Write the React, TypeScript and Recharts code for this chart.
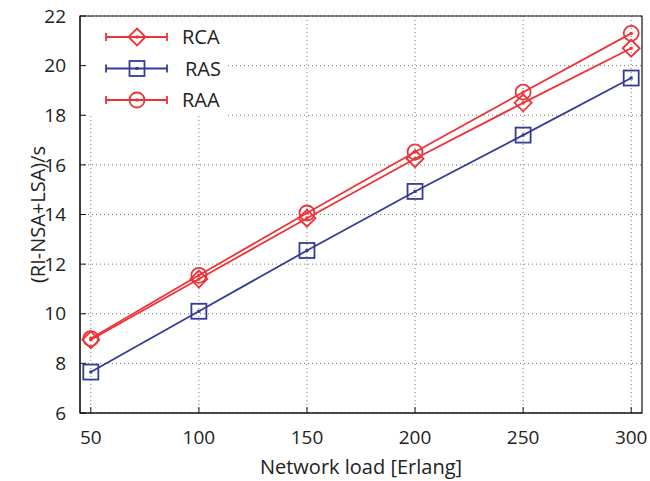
import React from 'react';
import {
  LineChart,
  Line,
  XAxis,
  YAxis,
  CartesianGrid,
  ReferenceArea,
} from 'recharts';

const loads = [50, 100, 150, 200, 250, 300];
const rca = [8.95, 11.4, 13.85, 16.25, 18.5, 20.7];
const ras = [7.65, 10.1, 12.55, 14.93, 17.2, 19.5];
const raa = [9.0, 11.55, 14.06, 16.52, 18.93, 21.3];
const xTicks = [50, 100, 150, 200, 250, 300];
const yTicks = [6, 8, 10, 12, 14, 16, 18, 20, 22];

const RED = '#ee3237';
const BLUE = '#343c9a';
const FONT = '"Open Sans", "Noto Sans", sans-serif';

const data = loads.map((x, i) => ({ x, rca: rca[i], ras: ras[i], raa: raa[i] }));

type DotProps = { cx?: number; cy?: number };

const Diamond = ({ cx = 0, cy = 0 }: DotProps) => (
  <g>
    <path
      d={`M${cx},${cy - 8.5}L${cx + 8.5},${cy}L${cx},${cy + 8.5}L${cx - 8.5},${cy}Z`}
      fill="none"
      stroke={RED}
      strokeWidth={1.8}
    />
    <rect x={cx - 1.5} y={cy - 1.5} width={3} height={3} fill={RED} />
  </g>
);

const Square = ({ cx = 0, cy = 0 }: DotProps) => (
  <g>
    <rect x={cx - 7.5} y={cy - 7.5} width={15} height={15} fill="none" stroke={BLUE} strokeWidth={1.8} />
    <rect x={cx - 1.5} y={cy - 1.5} width={3} height={3} fill={BLUE} />
  </g>
);

const Circle = ({ cx = 0, cy = 0 }: DotProps) => (
  <g>
    <circle cx={cx} cy={cy} r={7.5} fill="none" stroke={RED} strokeWidth={1.8} />
    <rect x={cx - 1.5} y={cy - 1.5} width={3} height={3} fill={RED} />
  </g>
);

const series = [
  { key: 'rca', name: 'RCA', color: RED, Dot: Diamond },
  { key: 'ras', name: 'RAS', color: BLUE, Dot: Square },
  { key: 'raa', name: 'RAA', color: RED, Dot: Circle },
];

const LegendBox = () => (
  <svg
    width={142}
    height={96}
    style={{ position: 'absolute', left: 86, top: 20, background: '#fff' }}
  >
    {series.map((s, i) => {
      const y = 17 + i * 31.5;
      const Dot = s.Dot;
      return (
        <g key={s.key}>
          <line x1={20} x2={81} y1={y} y2={y} stroke={s.color} strokeWidth={1.8} />
          <line x1={20} x2={20} y1={y - 4} y2={y + 4} stroke={s.color} strokeWidth={1.8} />
          <line x1={81} x2={81} y1={y - 4} y2={y + 4} stroke={s.color} strokeWidth={1.8} />
          <Dot cx={51} cy={y} />
          <text
            x={s.name === 'RAS' ? 99 : 96}
            y={y + 7}
            fontFamily={FONT}
            fontSize={20}
            fill="#222"
          >
            {s.name}
          </text>
        </g>
      );
    })}
  </svg>
);

export default function App() {
  return (
    <div style={{ position: 'absolute', left: 0, top: 0, width: 650, height: 481, background: '#fff' }}>
      <LineChart
        width={650}
        height={481}
        data={data}
        margin={{ top: 16, right: 8, left: 0, bottom: 0 }}
      >
        <CartesianGrid
          stroke="#777"
          strokeDasharray="1 3"
          verticalValues={xTicks}
          horizontalValues={yTicks}
        />
        <XAxis
          dataKey="x"
          type="number"
          domain={[45, 305]}
          ticks={xTicks}
          height={68}
          tickSize={-6}
          tickMargin={24}
          stroke="#111"
          tick={{ fill: '#222', fontSize: 19, fontFamily: FONT }}
          label={{
            value: 'Network load [Erlang]',
            position: 'insideBottom',
            offset: 7,
            fill: '#222',
            fontSize: 20,
            fontFamily: FONT,
          }}
        />
        <YAxis
          type="number"
          domain={[6, 22]}
          ticks={yTicks}
          width={80}
          tickSize={-6}
          tickMargin={20}
          stroke="#111"
          tick={{ fill: '#222', fontSize: 19, fontFamily: FONT }}
          label={{
            value: '(RI-NSA+LSA)/s',
            angle: -90,
            position: 'insideLeft',
            offset: 38,
            style: { textAnchor: 'middle' },
            fill: '#222',
            fontSize: 20,
            fontFamily: FONT,
          }}
        />
        <ReferenceArea
          x1={45}
          x2={305}
          y1={6}
          y2={22}
          fill="none"
          stroke="#111"
          strokeWidth={1.2}
          ifOverflow="visible"
        />
        {series.map((s) => {
          const Dot = s.Dot;
          return (
            <Line
              key={s.key}
              dataKey={s.key}
              name={s.name}
              stroke={s.color}
              strokeWidth={1.8}
              isAnimationActive={false}
              dot={(p: any) => <Dot key={`${s.key}-${p.index}`} cx={p.cx} cy={p.cy} />}
              activeDot={false}
            />
          );
        })}
      </LineChart>
      <LegendBox />
    </div>
  );
}
